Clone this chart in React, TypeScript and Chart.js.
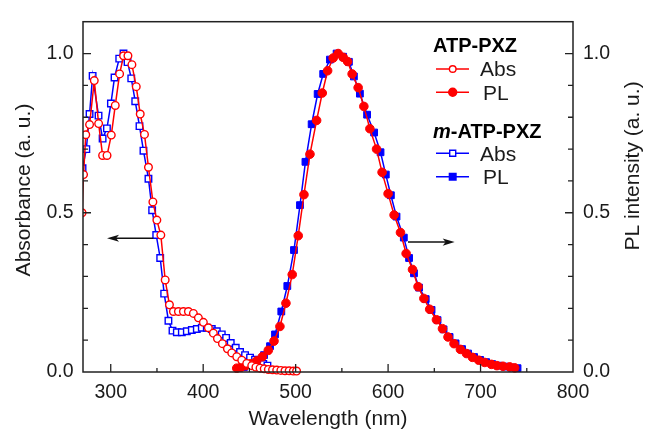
import React, { useEffect, useRef } from "react";
import { Chart, registerables } from "chart.js";

Chart.register(...registerables);

// ---------------- data ----------------
// ATP-PXZ absorption (open red circles)
const atpAbsX = [269, 270.6, 273, 277.1, 282.2, 286.9, 291.2, 296, 300.6, 304.9, 309.6, 313.9, 318.6, 322.9, 327.6, 331.9, 336.5, 340.8, 345.6, 349.9, 354.2, 358.9, 363.5, 367.8, 373.2, 378.6, 384, 389.4, 394.8, 400.2, 405.6, 411, 415.4, 420.8, 426.2, 430.9, 436.3, 441.7, 447.1, 452.5, 457, 461.5, 466, 470.5, 475, 479.5, 484, 488.5, 493, 497.5, 501];
const atpAbsY = [0.5, 0.62, 0.745, 0.777, 0.915, 0.78, 0.68, 0.68, 0.744, 0.837, 0.936, 0.993, 0.993, 0.965, 0.896, 0.81, 0.746, 0.643, 0.534, 0.477, 0.43, 0.289, 0.211, 0.19, 0.19, 0.19, 0.19, 0.184, 0.17, 0.156, 0.139, 0.122, 0.105, 0.089, 0.073, 0.06, 0.048, 0.037, 0.027, 0.02, 0.015, 0.012, 0.01, 0.008, 0.007, 0.006, 0.005, 0.004, 0.004, 0.003, 0.003];

// ATP-PXZ photoluminescence (filled red circles)
const atpPLX = [436.3, 441, 446, 451.5, 457.9, 464, 470.4, 476.6, 483, 489.5, 496.3, 502.8, 509, 515.5, 522.7, 528.8, 534.6, 540.6, 546, 551.4, 556.2, 561.1, 567.6, 573.8, 580.3, 587.5, 593.5, 600, 606.5, 613.4, 619.5, 626.4, 632.4, 638.7, 645, 652.3, 658.8, 664.8, 671.3, 678.2, 684.7, 691.2, 698, 704.5, 711.7, 717.7, 724.2, 731.5, 736.9];
const atpPLY = [0.012, 0.015, 0.02, 0.026, 0.035, 0.048, 0.068, 0.097, 0.143, 0.216, 0.306, 0.428, 0.557, 0.684, 0.79, 0.876, 0.946, 0.986, 1.0, 0.988, 0.975, 0.936, 0.893, 0.834, 0.764, 0.7, 0.627, 0.56, 0.493, 0.438, 0.372, 0.322, 0.268, 0.231, 0.197, 0.164, 0.136, 0.11, 0.089, 0.071, 0.058, 0.046, 0.037, 0.03, 0.024, 0.02, 0.018, 0.016, 0.013];

// m-ATP-PXZ absorption (open blue squares)
const mAbsX = [269.5, 273.6, 277.1, 280.4, 286.8, 291.2, 295.9, 300.2, 304.1, 309.2, 313.8, 318.2, 322.2, 326.5, 331.1, 335.4, 340.8, 344.8, 349.2, 353.5, 357.8, 362.4, 366.8, 371.5, 376.9, 382.3, 387.7, 393.1, 398.5, 403.9, 409.3, 414.7, 420.1, 424.8, 429.8, 435.2, 439.9, 445.3, 450.7, 456.1, 460.5, 465, 469.5];
const mAbsY = [0.64, 0.7, 0.81, 0.93, 0.805, 0.733, 0.765, 0.843, 0.925, 0.984, 1.0, 0.973, 0.922, 0.85, 0.772, 0.695, 0.607, 0.508, 0.43, 0.358, 0.246, 0.161, 0.13, 0.125, 0.125, 0.128, 0.132, 0.135, 0.139, 0.139, 0.135, 0.128, 0.118, 0.107, 0.091, 0.076, 0.063, 0.053, 0.045, 0.039, 0.032, 0.025, 0.02];

// m-ATP-PXZ photoluminescence (filled blue squares)
const mPLX = [444, 451, 457.9, 465.8, 472.3, 477.7, 484.5, 491, 498.2, 504.7, 510.6, 517.3, 523.8, 529.8, 537.1, 544.3, 551.4, 557.6, 563, 569.5, 577.3, 584.9, 591.8, 597.5, 603, 609.1, 617, 622.7, 628, 633.5, 640.7, 647, 653.5, 660, 666.5, 673, 680, 686.5, 693, 699.5, 706, 712.5, 719, 726, 733, 740];
const mPLY = [0.015, 0.024, 0.036, 0.053, 0.081, 0.118, 0.19, 0.27, 0.383, 0.524, 0.66, 0.778, 0.873, 0.936, 0.981, 1.0, 0.99, 0.974, 0.928, 0.874, 0.808, 0.752, 0.69, 0.62, 0.555, 0.488, 0.422, 0.358, 0.31, 0.265, 0.229, 0.195, 0.163, 0.134, 0.11, 0.09, 0.072, 0.058, 0.047, 0.038, 0.031, 0.025, 0.02, 0.017, 0.014, 0.012];

// axes
const xMin = 270;
const xMax = 800;
const yMin = 0;
const yMax = 1.1;
const xTickValues = [300, 400, 500, 600, 700, 800];
const xMinorValues = [350, 450, 550, 650, 750];
const yTickValues = [0, 0.5, 1.0];
const yMinorValues = [0.1, 0.2, 0.3, 0.4, 0.6, 0.7, 0.8, 0.9];

const xTitle = "Wavelength (nm)";
const yLeftTitle = "Absorbance (a. u.)";
const yRightTitle = "PL intensity (a. u.)";

// arrows in data units: [x, y] start -> end
const leftArrow = { from: [346, 0.42], to: [296, 0.42] };
const rightArrow = { from: [621.5, 0.408], to: [672, 0.408] };

const legendGroup1 = "ATP-PXZ";
const legendGroup2Prefix = "m";
const legendGroup2Rest = "-ATP-PXZ";
const legendAbs = "Abs";
const legendPL = "PL";

// ---------------- styling ----------------
const FONT = "'Liberation Sans', Arial, Helvetica, sans-serif";
const RED = "#ff0000";
const BLUE = "#0000ff";
const AXIS = "#222222";
const TEXT = "#1a1a1a";

function zip(xs: number[], ys: number[]) {
  return xs.map((x, i) => ({ x, y: ys[i] }));
}

const clipBox = { left: 0, top: 6, right: 6, bottom: 6 };

function drawMarker(ctx: CanvasRenderingContext2D, x: number, y: number, shape: string, filled: boolean, color: string, size: number) {
  ctx.save();
  ctx.lineWidth = 1.4;
  ctx.strokeStyle = color;
  ctx.fillStyle = filled ? color : "#ffffff";
  ctx.beginPath();
  if (shape === "circle") {
    ctx.arc(x, y, size, 0, Math.PI * 2);
  } else {
    ctx.rect(x - size, y - size, size * 2, size * 2);
  }
  ctx.fill();
  ctx.stroke();
  ctx.restore();
}

const decorPlugin = {
  id: "decor",
  afterDraw(chart: any) {
    const { ctx, chartArea: a, scales } = chart;
    const xs = scales.x;
    const yl = scales.yAbs;
    ctx.save();

    // frame
    ctx.strokeStyle = AXIS;
    ctx.lineWidth = 1.5;
    ctx.strokeRect(a.left, a.top, a.right - a.left, a.bottom - a.top);

    // inward ticks
    ctx.lineWidth = 1.3;
    ctx.beginPath();
    xTickValues.forEach((v) => {
      const px = xs.getPixelForValue(v);
      if (px > a.left + 1 && px < a.right - 1) {
        ctx.moveTo(px, a.bottom);
        ctx.lineTo(px, a.bottom - 8);
      }
    });
    xMinorValues.forEach((v) => {
      const px = xs.getPixelForValue(v);
      ctx.moveTo(px, a.bottom);
      ctx.lineTo(px, a.bottom - 4);
    });
    yTickValues.forEach((v) => {
      const py = yl.getPixelForValue(v);
      if (py < a.bottom - 1) {
        ctx.moveTo(a.left, py);
        ctx.lineTo(a.left + 8, py);
        ctx.moveTo(a.right, py);
        ctx.lineTo(a.right - 8, py);
      }
    });
    yMinorValues.forEach((v) => {
      const py = yl.getPixelForValue(v);
      ctx.moveTo(a.left, py);
      ctx.lineTo(a.left + 5, py);
      ctx.moveTo(a.right, py);
      ctx.lineTo(a.right - 5, py);
    });
    ctx.stroke();

    // arrows
    const drawArrow = (arr: any) => {
      const x1 = xs.getPixelForValue(arr.from[0]);
      const y1 = yl.getPixelForValue(arr.from[1]);
      const x2 = xs.getPixelForValue(arr.to[0]);
      const y2 = yl.getPixelForValue(arr.to[1]);
      const dir = Math.sign(x2 - x1);
      ctx.strokeStyle = "#111";
      ctx.fillStyle = "#111";
      ctx.lineWidth = 1.5;
      ctx.beginPath();
      ctx.moveTo(x1, y1);
      ctx.lineTo(x2 - dir * 8, y2);
      ctx.stroke();
      ctx.beginPath();
      ctx.moveTo(x2, y2);
      ctx.lineTo(x2 - dir * 12, y2 - 3.6);
      ctx.lineTo(x2 - dir * 9, y2);
      ctx.lineTo(x2 - dir * 12, y2 + 3.6);
      ctx.closePath();
      ctx.fill();
    };
    drawArrow(leftArrow);
    drawArrow(rightArrow);

    // axis titles
    ctx.fillStyle = TEXT;
    ctx.font = `21px ${FONT}`;
    ctx.textAlign = "center";
    ctx.textBaseline = "alphabetic";
    ctx.fillText(xTitle, (a.left + a.right) / 2, 425);

    ctx.save();
    ctx.translate(30, 190);
    ctx.rotate(-Math.PI / 2);
    ctx.fillText(yLeftTitle, 0, 0);
    ctx.restore();

    ctx.save();
    ctx.translate(639, 166);
    ctx.rotate(-Math.PI / 2);
    ctx.fillText(yRightTitle, 0, 0);
    ctx.restore();

    // legend
    const lx0 = 436;
    const lx1 = 469;
    const mx = 452.7;
    const tx = 480;
    const row = (y: number, color: string, shape: string, filled: boolean, label: string, size: number) => {
      ctx.strokeStyle = color;
      ctx.lineWidth = 1.5;
      ctx.beginPath();
      ctx.moveTo(lx0, y);
      ctx.lineTo(lx1, y);
      ctx.stroke();
      drawMarker(ctx, mx, y, shape, filled, color, size);
      ctx.fillStyle = TEXT;
      ctx.font = `21px ${FONT}`;
      ctx.textAlign = "left";
      ctx.textBaseline = "alphabetic";
      ctx.fillText(label, label === legendPL ? tx + 3 : tx, y + 7.3);
    };
    ctx.fillStyle = "#000";
    ctx.textAlign = "left";
    ctx.textBaseline = "alphabetic";
    ctx.font = `bold 20px ${FONT}`;
    ctx.fillText(legendGroup1, 433, 51.7);
    row(69, RED, "circle", false, legendAbs, 3.3);
    row(92.3, RED, "circle", true, legendPL, 4);

    ctx.fillStyle = "#000";
    ctx.font = `italic bold 20px ${FONT}`;
    ctx.fillText(legendGroup2Prefix, 433, 138.3);
    const mw = ctx.measureText(legendGroup2Prefix).width;
    ctx.font = `bold 20px ${FONT}`;
    ctx.fillText(legendGroup2Rest, 433 + mw, 138.3);
    row(153.3, BLUE, "rect", false, legendAbs, 3);
    row(176.7, BLUE, "rect", true, legendPL, 3.3);

    ctx.restore();
  },
};

export default function App() {
  const ref = useRef<HTMLCanvasElement | null>(null);

  useEffect(() => {
    if (!ref.current) return;
    const chart = new Chart(ref.current, {
      type: "line",
      data: {
        datasets: [
          {
            label: "ATP-PXZ Abs",
            data: zip(atpAbsX, atpAbsY),
            yAxisID: "yAbs",
            borderColor: RED,
            borderWidth: 1.5,
            pointStyle: "circle",
            pointRadius: 3.8,
            pointBorderWidth: 1.4,
            pointBackgroundColor: "#ffffff",
            pointBorderColor: RED,
            tension: 0,
            clip: clipBox as any,
          },
          {
            label: "ATP-PXZ PL",
            data: zip(atpPLX, atpPLY),
            yAxisID: "yPL",
            borderColor: RED,
            borderWidth: 1.5,
            pointStyle: "circle",
            pointRadius: 4.3,
            pointBorderWidth: 1,
            pointBackgroundColor: RED,
            pointBorderColor: RED,
            tension: 0,
            clip: clipBox as any,
          },
          {
            label: "m-ATP-PXZ Abs",
            data: zip(mAbsX, mAbsY),
            yAxisID: "yAbs",
            borderColor: BLUE,
            borderWidth: 1.5,
            pointStyle: "rect",
            pointRadius: 4.6,
            pointBorderWidth: 1.4,
            pointBackgroundColor: "#ffffff",
            pointBorderColor: BLUE,
            tension: 0,
            clip: clipBox as any,
          },
          {
            label: "m-ATP-PXZ PL",
            data: zip(mPLX, mPLY),
            yAxisID: "yPL",
            borderColor: BLUE,
            borderWidth: 1.5,
            pointStyle: "rect",
            pointRadius: 4.8,
            pointBorderWidth: 1,
            pointBackgroundColor: BLUE,
            pointBorderColor: BLUE,
            tension: 0,
            clip: clipBox as any,
          },
        ],
      },
      options: {
        responsive: false,
        animation: false,
        devicePixelRatio: 1,
        layout: { padding: { top: 18, left: 0, right: 0, bottom: 0 } },
        plugins: {
          legend: { display: false },
          tooltip: { enabled: false },
        },
        scales: {
          x: {
            type: "linear",
            min: xMin,
            max: xMax,
            grid: { display: false, drawTicks: false },
            border: { display: false },
            afterBuildTicks: (s: any) => {
              s.ticks = xTickValues.map((v) => ({ value: v }));
            },
            afterFit: (s: any) => {
              s.height = 59;
            },
            ticks: {
              color: TEXT,
              padding: 9,
              maxRotation: 0,
              font: { family: FONT, size: 19.5 },
              callback: (v: any) => String(v),
            },
          },
          yAbs: {
            type: "linear",
            position: "left",
            min: yMin,
            max: yMax,
            grid: { display: false, drawTicks: false },
            border: { display: false },
            afterBuildTicks: (s: any) => {
              s.ticks = yTickValues.map((v) => ({ value: v }));
            },
            afterFit: (s: any) => {
              s.width = 83;
            },
            ticks: {
              color: TEXT,
              padding: 9.5,
              font: { family: FONT, size: 19.5 },
              callback: (v: any) => Number(v).toFixed(1),
            },
          },
          yPL: {
            type: "linear",
            position: "right",
            min: yMin,
            max: yMax,
            grid: { display: false, drawTicks: false },
            border: { display: false },
            afterBuildTicks: (s: any) => {
              s.ticks = yTickValues.map((v) => ({ value: v }));
            },
            afterFit: (s: any) => {
              s.width = 73;
            },
            ticks: {
              color: TEXT,
              padding: 10,
              font: { family: FONT, size: 19.5 },
              callback: (v: any) => Number(v).toFixed(1),
            },
          },
        },
      },
      plugins: [decorPlugin],
    });
    return () => chart.destroy();
  }, []);

  return (
    <div style={{ position: "fixed", left: 0, top: 0, width: 646, height: 431, background: "#fff" }}>
      <canvas ref={ref} width={646} height={431} style={{ display: "block", width: 646, height: 431 }} />
    </div>
  );
}
